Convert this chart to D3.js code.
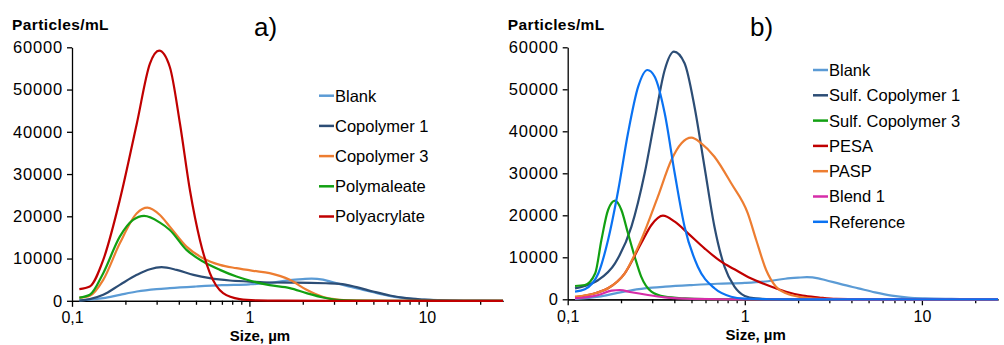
<!DOCTYPE html>
<html>
<head>
<meta charset="utf-8">
<script src="https://cdn.jsdelivr.net/npm/d3@7"></script>
<style>
  html, body { margin: 0; padding: 0; background: #fff; }
  svg { display: block; font-family: Arial, "Liberation Sans", sans-serif; }
</style>
</head>
<body>
<svg id="chart" width="1004" height="345"></svg>
<script>
// Particle size distributions: [size in µm, particles per mL]
const blank = [[0.11,100],[0.15,630],[0.186,1420],[0.232,2200],[0.30,2760],[0.356,3000],[0.50,3380],[0.70,3700],[1.0,3900],[1.35,4300],[1.69,4900],[2.0,5150],[2.24,5270],[2.6,5000],[2.84,4600],[3.53,3540],[4.38,2600],[5.44,1650],[6.75,870],[8.38,400],[10.4,200],[14.7,80],[20,20],[26.9,0]];

// Panel a)
const copolymer1 = [[0.11,50],[0.126,400],[0.15,1420],[0.186,3780],[0.232,6140],[0.275,7480],[0.32,7950],[0.389,7320],[0.484,6140],[0.599,5350],[0.776,4800],[1.0,4560],[1.3,4330],[1.7,4300],[2.2,4250],[2.7,4150],[3.24,4020],[4.02,3230],[4.98,2200],[6.19,1260],[7.69,630],[9.53,310],[11.8,80],[15,10],[26.9,0]];
const copolymer3 = [[0.11,700],[0.126,1180],[0.15,4960],[0.186,13600],[0.232,20700],[0.266,22040],[0.313,20300],[0.356,17550],[0.442,12830],[0.548,10080],[0.682,8500],[0.846,7720],[1.05,7090],[1.3,6540],[1.69,4960],[2.1,2600],[2.61,870],[3.24,236],[4.0,50],[6,0],[26.9,0]];
const polymaleate = [[0.11,750],[0.126,1420],[0.15,6540],[0.186,15190],[0.221,19130],[0.255,20080],[0.313,18500],[0.356,16770],[0.442,12050],[0.548,9290],[0.682,7320],[0.846,5740],[1.05,4560],[1.3,3700],[1.69,3000],[2.1,1820],[2.61,790],[3.1,236],[4.0,30],[6,0],[26.9,0]];
const polyacrylate = [[0.11,2760],[0.126,3380],[0.15,9680],[0.186,23860],[0.232,41970],[0.275,56140],[0.31,59200],[0.356,55340],[0.406,41970],[0.462,26220],[0.526,14400],[0.599,6540],[0.711,1820],[0.883,400],[1.1,100],[1.5,20],[3,0],[26.9,0]];

// Panel b)
const sulfCopolymer1 = [[0.11,2620],[0.125,3170],[0.149,4600],[0.185,8570],[0.229,17290],[0.272,30000],[0.31,42690],[0.353,54600],[0.398,58950],[0.457,56190],[0.52,45860],[0.592,31570],[0.674,17290],[0.768,7760],[0.874,3000],[1.0,790],[1.15,200],[1.4,30],[2,0],[26.9,0]];
const sulfCopolymer3 = [[0.11,3170],[0.125,3400],[0.143,6190],[0.155,14120],[0.169,21260],[0.185,23480],[0.201,21260],[0.219,15710],[0.239,10140],[0.26,5380],[0.297,1810],[0.353,620],[0.46,200],[0.6,50],[1.0,0],[26.9,0]];
const pesa = [[0.11,480],[0.143,1430],[0.169,2620],[0.21,6190],[0.26,13330],[0.297,17690],[0.345,19900],[0.402,18480],[0.478,15710],[0.592,12140],[0.736,8950],[0.874,7140],[1.08,5000],[1.29,3640],[1.71,1810],[2.12,860],[2.63,430],[3.27,100],[4.5,0],[26.9,0]];
const pasp = [[0.11,620],[0.143,1430],[0.169,2620],[0.21,6190],[0.26,14120],[0.323,24430],[0.385,33170],[0.439,37140],[0.499,38480],[0.568,37140],[0.674,33950],[0.838,27620],[1.04,20480],[1.16,14120],[1.32,6980],[1.5,3000],[1.71,1430],[2.12,480],[2.63,100],[3.5,0],[26.9,0]];
const blend1 = [[0.11,200],[0.149,1020],[0.177,2050],[0.197,2210],[0.229,1670],[0.284,1020],[0.353,480],[0.5,100],[0.8,0],[26.9,0]];
const reference = [[0.11,1810],[0.125,2380],[0.149,6190],[0.169,14120],[0.193,26020],[0.219,39520],[0.25,50620],[0.282,54600],[0.31,53000],[0.353,44290],[0.402,30000],[0.457,17290],[0.543,7760],[0.674,2620],[0.837,620],[1.0,150],[1.3,20],[2,0],[26.9,0]];

const yTicks = [0, 10000, 20000, 30000, 40000, 50000, 60000];
const xMajorTicks = [0.1, 1, 10];
const xMinorTicks = [0.2,0.3,0.4,0.5,0.6,0.7,0.8,0.9,2,3,4,5,6,7,8,9,20];

const C = {
  blank: "#5B9BD5", navy: "#2C4D75", orange: "#ED7D31", green: "#12A012",
  red: "#C00000", magenta: "#D62DA8", blue: "#0A72F2"
};

const panels = [
  {
    tag: "a)", tagX: 254,
    x0: 72, x1: 503, yTop: 47.3, yZero: 300.8,
    legendX: 319, legendY: 95.7, legendStep: 30.2,
    series: [
      { name: "Blank", data: blank, color: C.blank },
      { name: "Copolymer 1", data: copolymer1, color: C.navy },
      { name: "Copolymer 3", data: copolymer3, color: C.orange },
      { name: "Polymaleate", data: polymaleate, color: C.green },
      { name: "Polyacrylate", data: polyacrylate, color: C.red }
    ]
  },
  {
    tag: "b)", tagX: 750,
    x0: 567.7, x1: 998, yTop: 47.3, yZero: 299.3,
    legendX: 813, legendY: 70, legendStep: 25.3,
    series: [
      { name: "Blank", data: blank, color: C.blank },
      { name: "Sulf. Copolymer 1", data: sulfCopolymer1, color: C.navy },
      { name: "Sulf. Copolymer 3", data: sulfCopolymer3, color: C.green },
      { name: "PESA", data: pesa, color: C.red },
      { name: "PASP", data: pasp, color: C.orange },
      { name: "Blend 1", data: blend1, color: C.magenta },
      { name: "Reference", data: reference, color: C.blue }
    ]
  }
];

const svg = d3.select("#chart");

panels.forEach(p => {
  const g = svg.append("g");
  const x = d3.scaleLog().domain([0.1, 26.9]).range([p.x0, p.x1]);
  const y = d3.scaleLinear().domain([0, 60000]).range([p.yZero, p.yTop]);

  // y axis
  const yAxis = g.append("g")
    .attr("transform", `translate(${p.x0},0)`)
    .call(d3.axisLeft(y).tickValues(yTicks).tickSize(5).tickSizeOuter(0).tickPadding(4).tickFormat(d3.format("d")));
  yAxis.selectAll("text")
    .attr("font-size", 16.5).attr("letter-spacing", "0.8px").attr("fill", "#000")
    .attr("font-family", "Arial, 'Liberation Sans', sans-serif");

  // x axis: minor ticks then major ticks with labels
  g.append("g")
    .attr("transform", `translate(0,${p.yZero})`)
    .call(d3.axisBottom(x).tickValues(xMinorTicks).tickSize(4).tickSizeOuter(0).tickFormat(""));
  const xAxis = g.append("g")
    .attr("transform", `translate(0,${p.yZero})`)
    .call(d3.axisBottom(x).tickValues(xMajorTicks).tickSize(6).tickSizeOuter(0).tickPadding(5)
      .tickFormat(d => d < 1 ? String(d).replace(".", ",") : String(d)));
  xAxis.selectAll("text").attr("font-size", 16).attr("fill", "#000").attr("font-family", "Arial, 'Liberation Sans', sans-serif");

  g.selectAll(".domain, .tick line").attr("stroke", "#000").attr("stroke-width", 1.3);

  // distribution curves
  const line = d3.line().x(d => x(d[0])).y(d => y(d[1])).curve(d3.curveMonotoneX);
  p.series.forEach(s => {
    g.append("path")
      .datum(s.data)
      .attr("fill", "none")
      .attr("stroke", s.color)
      .attr("stroke-width", 2.2)
      .attr("stroke-linejoin", "round")
      .attr("d", line);
  });

  // legend
  const lg = g.append("g");
  p.series.forEach((s, i) => {
    const ly = p.legendY + i * p.legendStep;
    lg.append("line")
      .attr("x1", p.legendX).attr("x2", p.legendX + 15)
      .attr("y1", ly).attr("y2", ly)
      .attr("stroke", s.color).attr("stroke-width", 2.5);
    lg.append("text")
      .attr("x", p.legendX + 16).attr("y", ly).attr("dy", "0.36em")
      .attr("font-size", 16.5).attr("fill", "#000")
      .text(s.name);
  });

  // titles
  g.append("text")
    .attr("x", p.x0 - 60).attr("y", 30)
    .attr("font-size", 15.5).attr("letter-spacing", "0.4px").attr("font-weight", "bold").attr("fill", "#000")
    .text("Particles/mL");
  g.append("text")
    .attr("x", p.x0 + 188).attr("y", p.yZero + 40.5)
    .attr("text-anchor", "middle")
    .attr("font-size", 15).attr("font-weight", "bold").attr("fill", "#000")
    .text("Size, µm");
  g.append("text")
    .attr("x", p.tagX).attr("y", 35.5)
    .attr("font-size", 26).attr("fill", "#000")
    .text(p.tag);
});
</script>
</body>
</html>
